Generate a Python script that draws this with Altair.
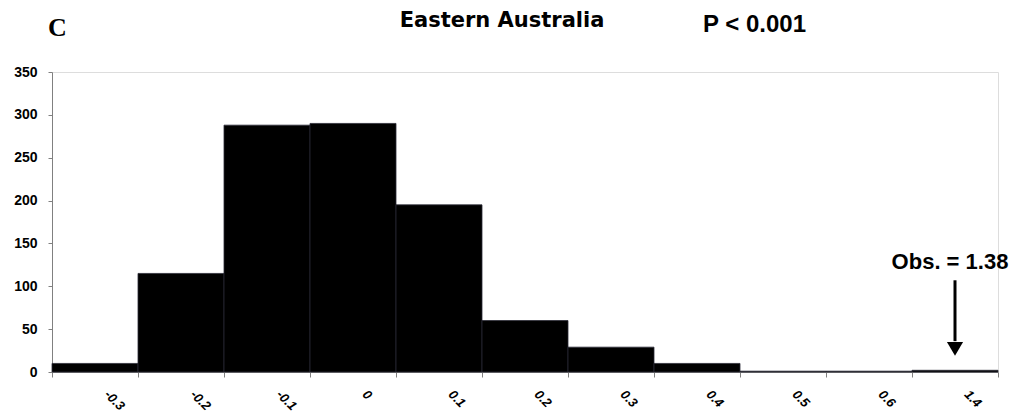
import altair as alt
import pandas as pd

# Data
bins = ["-0.3", "-0.2", "-0.1", "0", "0.1", "0.2", "0.3", "0.4", "0.5", "0.6", "1.4"]
counts = [10, 115, 288, 290, 195, 60, 29, 10, 1, 1, 2]
obs_bin = ["1.4"]
obs_label = ["Obs. = 1.38"]
arrow_top = [107]
arrow_bottom = [36]
arrow_head = [27]
label_y = [128]

df = pd.DataFrame({"bin": bins, "count": counts})
ann = pd.DataFrame({"bin": obs_bin, "label": obs_label, "top": arrow_top,
                    "bottom": arrow_bottom, "head": arrow_head, "ly": label_y})

FONT = "Liberation Sans"

xscale = alt.Scale(domain=bins, paddingInner=0, paddingOuter=0)
yscale = alt.Scale(domain=[0, 350])

bars = alt.Chart(df).mark_bar(color="black", stroke="#2a2a35", strokeWidth=0.8).encode(
    x=alt.X("bin:N", scale=xscale, sort=bins, title=None,
            axis=alt.Axis(labelAngle=45, labelAlign="left", labelBaseline="middle",
                          labelOffset=11, labelPadding=15, tickBand="extent",
                          labelFont=FONT, labelFontSize=13, labelFontWeight="bold",
                          labelFontStyle="italic",
                          labelColor="black", domainColor="#808080", tickColor="#808080",
                          tickSize=5, grid=False)),
    y=alt.Y("count:Q", scale=yscale, title=None,
            axis=alt.Axis(values=[0, 50, 100, 150, 200, 250, 300, 350],
                          labelFont=FONT, labelFontSize=14, labelFontWeight="bold",
                          labelColor="black", domainColor="#808080", tickColor="#808080",
                          tickSize=4, labelPadding=11, grid=False)),
)

rule = alt.Chart(ann).mark_rule(color="black", strokeWidth=3).encode(
    x=alt.X("bin:N", scale=xscale, sort=bins),
    y=alt.Y("top:Q", scale=yscale),
    y2="bottom:Q",
)
head = alt.Chart(ann).mark_point(shape="triangle-down", filled=True, color="black",
                                 size=260, opacity=1).encode(
    x=alt.X("bin:N", scale=xscale, sort=bins),
    y=alt.Y("head:Q", scale=yscale),
)
obs = alt.Chart(ann).mark_text(font=FONT, fontSize=22, fontWeight="bold",
                               color="black", baseline="middle", dx=-5).encode(
    x=alt.X("bin:N", scale=xscale, sort=bins),
    y=alt.Y("ly:Q", scale=yscale),
    text="label:N",
)

c_txt = alt.Chart(pd.DataFrame({"t": ["C"]})).mark_text(
    font="Liberation Serif", fontSize=26, fontWeight="bold",
    color="black", align="left", baseline="alphabetic").encode(
    x=alt.value(-4), y=alt.value(-36), text="t:N")
east = alt.Chart(pd.DataFrame({"t": ["Eastern Australia"]})).mark_text(
    font="DejaVu Sans", fontSize=21, fontWeight="bold", color="black", align="center",
    baseline="alphabetic").encode(x=alt.value(450), y=alt.value(-45), text="t:N")
ptxt = alt.Chart(pd.DataFrame({"t": ["P < 0.001"]})).mark_text(
    font=FONT, fontSize=24, fontWeight="bold", color="black", align="left",
    baseline="alphabetic").encode(x=alt.value(651), y=alt.value(-40), text="t:N")

chart = alt.layer(bars, rule, head, obs, c_txt, east, ptxt).properties(
    width=946, height=300,
    autosize=alt.AutoSizeParams(type="none"),
    padding={"left": 44, "top": 64, "right": 18, "bottom": 44},
).configure_view(stroke=None).configure(background="white")

chart.save("out.html", embed_options={"renderer": "svg", "actions": False})
